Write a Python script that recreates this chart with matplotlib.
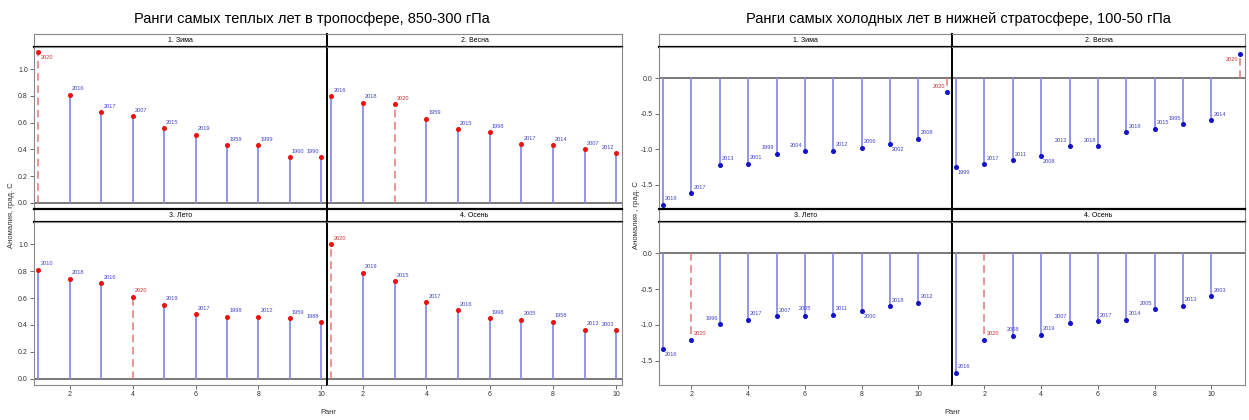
import matplotlib.pyplot as plt

plt.rcParams['font.family'] = ['Liberation Sans Narrow', 'Liberation Sans', 'DejaVu Sans']

W, H = 1249, 420

seasons = ['1. Зима', '2. Весна', '3. Лето', '4. Осень']

# warmest years, troposphere 850-300 hPa
warm_years = [
    [2020, 2016, 2017, 2007, 2015, 2019, 1959, 1999, 1960, 1990],
    [2016, 2018, 2020, 1959, 2015, 1998, 2017, 2014, 2007, 2012],
    [2010, 2018, 2016, 2020, 2019, 2017, 1998, 2012, 1959, 1988],
    [2020, 2019, 2015, 2017, 2016, 1998, 2005, 1958, 2013, 2003],
]
warm_values = [
    [1.13, 0.81, 0.68, 0.65, 0.56, 0.51, 0.43, 0.43, 0.34, 0.34],
    [0.80, 0.75, 0.74, 0.63, 0.55, 0.53, 0.44, 0.43, 0.40, 0.37],
    [0.81, 0.745, 0.71, 0.61, 0.55, 0.48, 0.46, 0.46, 0.45, 0.42],
    [1.00, 0.79, 0.725, 0.57, 0.51, 0.45, 0.44, 0.425, 0.365, 0.36],
]

# coldest years, lower stratosphere 100-50 hPa
cold_years = [
    [2019, 2017, 2013, 2001, 1999, 2004, 2012, 2006, 2002, 2008, 2020],
    [1999, 2017, 2011, 2008, 2012, 2018, 2019, 2015, 1995, 2014, 2020],
    [2016, 2020, 1996, 2017, 2007, 2005, 2011, 2000, 2018, 2012],
    [2016, 2020, 2008, 2019, 2007, 2017, 2014, 2005, 2013, 2003],
]
cold_values = [
    [-1.78, -1.62, -1.22, -1.20, -1.06, -1.03, -1.02, -0.98, -0.93, -0.85, -0.20],
    [-1.25, -1.21, -1.15, -1.10, -0.96, -0.96, -0.76, -0.71, -0.645, -0.59, 0.34],
    [-1.34, -1.21, -0.99, -0.93, -0.88, -0.87, -0.86, -0.81, -0.74, -0.69],
    [-1.67, -1.21, -1.15, -1.14, -0.97, -0.95, -0.93, -0.78, -0.73, -0.60],
]

# where each year label sits relative to its point
warm_label_pos = [
    ['dr'] + ['ur'] * 8 + ['ul'],
    ['ur'] * 9 + ['ul'],
    ['ur'] * 9 + ['ul'],
    ['ur'] * 9 + ['ul'],
]
cold_label_pos = [
    ['ur', 'ur', 'ur', 'ur', 'ul', 'ul', 'ur', 'ur', 'dr', 'ur', 'ul'],
    ['dr', 'ur', 'ur', 'dr', 'ul', 'ul', 'ur', 'ur', 'ul', 'ur', 'dl'],
    ['dr', 'ur', 'ul', 'ur', 'ur', 'u', 'ur', 'dr', 'ur', 'ur'],
    ['ur', 'ur', 'u', 'ur', 'ul', 'ur', 'ur', 'ul', 'ur', 'ur'],
]

OFFS = {'ur': ((1.5, 2.5), 'left', 'bottom'),
        'ul': ((-1.5, 2.5), 'right', 'bottom'),
        'u': ((0, 3), 'center', 'bottom'),
        'dr': ((1.5, -2), 'left', 'top'),
        'dl': ((-1.5, -2), 'right', 'top')}

STEM = '#8c8ce6'
HILITE = '#e07878'
LBL = '#4444cc'
LBL_RED = '#cc3333'

fig = plt.figure(figsize=(W / 100, H / 100), dpi=100)


def px_axes(x0, y0, x1, y1):
    return fig.add_axes([x0 / W, 1 - y1 / H, (x1 - x0) / W, (y1 - y0) / H])


def draw_chart(xs, title, title_x, years, values, label_pos, dot_color, ylim, yticks, xlim, ylabel):
    rows = [(34, 47, 209), (209, 222, 385)]
    cols = [(xs[0], xs[1]), (xs[1], xs[2])]
    for i in range(4):
        r, c = divmod(i, 2)
        s0, p0, p1 = rows[r]
        c0, c1 = cols[c]
        # strip
        st = px_axes(c0, s0, c1, p0)
        st.set_xticks([])
        st.set_yticks([])
        for side in ['left', 'right']:
            st.spines[side].set_color('#888888')
            st.spines[side].set_linewidth(0.8)
        st.spines['bottom'].set_linewidth(1.6)
        st.spines['top'].set_linewidth(1.6 if r == 1 else 0.8)
        st.spines['top'].set_color('black' if r == 1 else '#888888')
        st.text(0.5, 0.5, seasons[i], transform=st.transAxes, ha='center', va='center', fontsize=5)
        if c == 1:
            st.spines['left'].set_color('black')
            st.spines['left'].set_linewidth(1.4)

        ax = px_axes(c0, p0, c1, p1)
        yrs = years[i]
        vals = values[i]
        ranks = list(range(1, len(vals) + 1))
        for rk, yr, v, pos in zip(ranks, yrs, vals, label_pos[i]):
            if yr == 2020:
                ax.vlines(rk, 0, v, color=HILITE, lw=1.1, linestyles=(0, (5, 3)), zorder=2)
            else:
                ax.vlines(rk, 0, v, color=STEM, lw=1.3, zorder=2)
            off, ha, va = OFFS[pos]
            ax.annotate(str(yr), (rk, v), xytext=off, textcoords='offset points', ha=ha, va=va,
                        fontsize=4.1, color=LBL_RED if yr == 2020 else LBL)
        ax.plot(ranks, vals, 'o', color=dot_color, ms=2.6, zorder=3)
        ax.axhline(0, color='#555555', lw=1.1, zorder=1)
        ax.set_xlim(xlim)
        ax.set_ylim(ylim)
        ax.set_xticks([2, 4, 6, 8, 10])
        ax.set_yticks(yticks)
        ax.tick_params(labelsize=5, length=3, width=0.6, color='#555555', pad=1.5, labelcolor='#333333')
        if r == 0:
            ax.tick_params(axis='x', length=0, labelbottom=False)
        if c == 1:
            ax.tick_params(axis='y', length=0, labelleft=False)
        else:
            ax.set_yticklabels(['%.1f' % t for t in yticks])
        for sp in ax.spines.values():
            sp.set_color('#888888')
            sp.set_linewidth(0.8)
        if c == 1:
            ax.spines['left'].set_color('black')
            ax.spines['left'].set_linewidth(1.4)

    mid = (xs[0] + xs[2]) / 2
    fig.text(title_x / W, 1 - 19 / H, title, ha='center', va='center', fontsize=10.5)
    fig.text(mid / W, 1 - 412 / H, 'Ранг', ha='center', va='center', fontsize=5.5, color='#333333')
    fig.text((xs[0] - 22) / W, 1 - 215 / H, ylabel, ha='center', va='center', rotation=90,
             fontsize=5.5, color='#333333')


draw_chart([34, 327, 622], 'Ранги самых теплых лет в тропосфере, 850-300 гПа', 312,
           warm_years, warm_values, warm_label_pos, '#ee1111',
           (-0.047, 1.167), [0.0, 0.2, 0.4, 0.6, 0.8, 1.0], (0.86, 10.18), 'Аномалия, град. С')

draw_chart([659, 952, 1245], 'Ранги самых холодных лет в нижней стратосфере, 100-50 гПа', 958,
           cold_years, cold_values, cold_label_pos, '#1111cc',
           (-1.84, 0.44), [-1.5, -1.0, -0.5, 0.0], (0.86, 11.18), 'Аномалия , град. С')

fig.savefig('out.png', dpi=100, facecolor='white')
